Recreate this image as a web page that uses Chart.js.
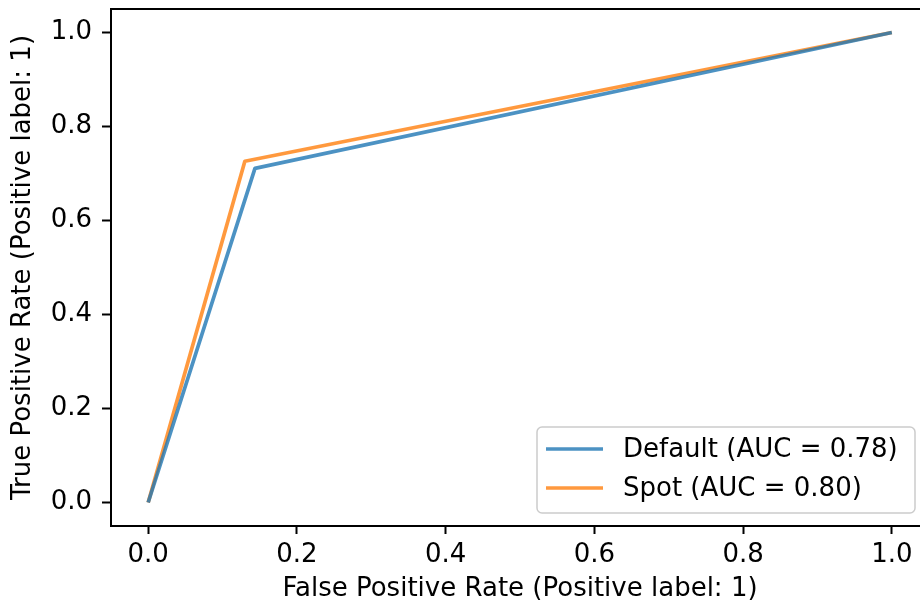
<!DOCTYPE html>
<html>
<head>
<meta charset="utf-8">
<script src="https://cdn.jsdelivr.net/npm/chart.js@4"></script>
<style>
  html, body { margin: 0; padding: 0; background: #fff; overflow: hidden; }
  #wrap { width: 920px; height: 610px; overflow: hidden; }
</style>
</head>
<body>
<div id="wrap"><canvas id="roc" width="940" height="610"></canvas></div>
<script>
// ROC curve points
const seriesNames = ['Default (AUC = 0.78)', 'Spot (AUC = 0.80)'];
const defaultFpr = [0, 0.1436, 1];
const defaultTpr = [0, 0.711, 1];
const spotFpr = [0, 0.130, 1];
const spotTpr = [0, 0.726, 1];
const xTicks = [0, 0.2, 0.4, 0.6, 0.8, 1.0];
const yTicks = [0, 0.2, 0.4, 0.6, 0.8, 1.0];

const fontFamily = '"DejaVu Sans", sans-serif';
const fontSize = 26;

function toPoints(xs, ys) {
  return xs.map((x, i) => ({ x: x, y: ys[i] }));
}

// spines on all four sides, like matplotlib
const frame = {
  id: 'frame',
  afterDraw(chart) {
    const { ctx, chartArea: a } = chart;
    ctx.save();
    ctx.strokeStyle = '#000';
    ctx.lineWidth = 2;
    ctx.strokeRect(a.left, a.top, a.right - a.left, a.bottom - a.top);
    ctx.restore();
  }
};

// legend box in the lower right corner of the axes
const boxLegend = {
  id: 'boxLegend',
  afterDatasetsDraw(chart) {
    const { ctx, chartArea: a } = chart;
    const w = 378, h = 86;
    const x = a.right - 14 - w;
    const y = a.bottom - 13 - h;
    ctx.save();
    ctx.beginPath();
    ctx.roundRect(x, y, w, h, 5);
    ctx.fillStyle = 'rgba(255,255,255,0.8)';
    ctx.fill();
    ctx.strokeStyle = '#cccccc';
    ctx.lineWidth = 1.5;
    ctx.stroke();
    ctx.font = fontSize + 'px ' + fontFamily;
    ctx.textBaseline = 'middle';
    chart.data.datasets.forEach((ds, i) => {
      const ly = y + 22 + i * 39;
      ctx.beginPath();
      ctx.moveTo(x + 9, ly);
      ctx.lineTo(x + 66, ly);
      ctx.strokeStyle = ds.borderColor;
      ctx.lineWidth = ds.borderWidth;
      ctx.stroke();
      ctx.fillStyle = '#000';
      ctx.fillText(ds.label, x + 86, ly + 1);
    });
    ctx.restore();
  }
};

function noEdgePadding(s) {
  s.paddingTop = 0;
  s.paddingBottom = 0;
  s.paddingLeft = 0;
  s.paddingRight = 0;
}

new Chart(document.getElementById('roc'), {
  type: 'line',
  data: {
    datasets: [
      {
        label: seriesNames[0],
        data: toPoints(defaultFpr, defaultTpr),
        borderColor: 'rgba(31,119,180,0.8)',
        borderWidth: 3.7,
        pointRadius: 0,
        borderJoinStyle: 'round',
        tension: 0
      },
      {
        label: seriesNames[1],
        data: toPoints(spotFpr, spotTpr),
        borderColor: 'rgba(255,127,14,0.8)',
        borderWidth: 3.7,
        pointRadius: 0,
        borderJoinStyle: 'round',
        tension: 0
      }
    ]
  },
  options: {
    responsive: false,
    animation: false,
    layout: { padding: { top: 9, right: 11, left: 0, bottom: 0 } },
    plugins: {
      legend: { display: false },
      tooltip: { enabled: false }
    },
    scales: {
      x: {
        type: 'linear',
        min: -0.05,
        max: 1.05,
        afterBuildTicks: s => { s.ticks = xTicks.map(v => ({ value: v })); },
        afterFit: s => { s.height = 84; noEdgePadding(s); },
        border: { display: false },
        grid: { drawOnChartArea: false, drawTicks: true, tickLength: 8, tickColor: '#000', tickWidth: 2 },
        ticks: {
          color: '#000',
          padding: 6,
          maxRotation: 0,
          font: { family: fontFamily, size: fontSize },
          callback: v => v.toFixed(1)
        },
        title: {
          display: true,
          text: 'False Positive Rate (Positive label: 1)',
          color: '#000',
          font: { family: fontFamily, size: fontSize },
          padding: { top: 4, bottom: 5 }
        }
      },
      y: {
        type: 'linear',
        min: -0.05,
        max: 1.05,
        afterBuildTicks: s => { s.ticks = yTicks.map(v => ({ value: v })); },
        afterFit: s => { s.width = 111; noEdgePadding(s); },
        border: { display: false },
        grid: { drawOnChartArea: false, drawTicks: true, tickLength: 9, tickColor: '#000', tickWidth: 2 },
        ticks: {
          color: '#000',
          padding: 10,
          font: { family: fontFamily, size: fontSize },
          callback: v => v.toFixed(1)
        },
        title: {
          display: true,
          text: 'True Positive Rate (Positive label: 1)',
          color: '#000',
          font: { family: fontFamily, size: fontSize },
          padding: { top: 8, bottom: 4 }
        }
      }
    }
  },
  plugins: [frame, boxLegend]
});
</script>
</body>
</html>
